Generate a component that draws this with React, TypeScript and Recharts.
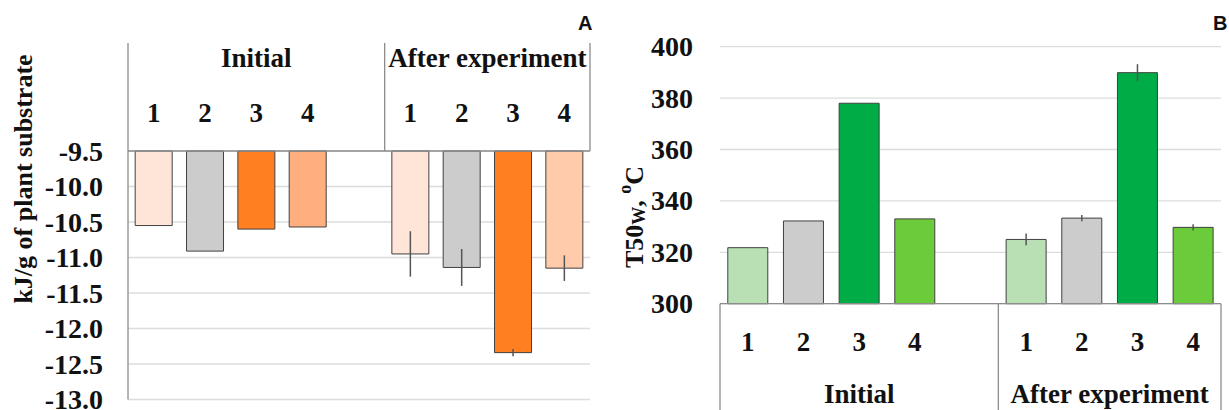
import React from "react";
import { BarChart, Bar, XAxis, YAxis, CartesianGrid, Cell, ErrorBar } from "recharts";

// slot layout shared by both panels (5th slot is the gap between groups)
const slotLabels = ["1", "2", "3", "4", "", "1", "2", "3", "4"];
const slotGroups = [
  "Initial", "Initial", "Initial", "Initial", "Initial",
  "After experiment", "After experiment", "After experiment", "After experiment",
];

// Panel A: energy, kJ/g of plant substrate
const energyInitial = [-10.55, -10.91, -10.6, -10.57];
const energyAfter = [-10.95, -11.14, -12.34, -11.15];
const energyAfterErr = [0.32, 0.26, 0.05, 0.18];
const energyTicks = [-9.5, -10, -10.5, -11, -11.5, -12, -12.5, -13];
const energyInitialColors = ["#FFE4D8", "#CCCCCC", "#FF7F21", "#FFAF7F"];
const energyAfterColors = ["#FFE4D8", "#CCCCCC", "#FF7F21", "#FFCBAA"];

// Panel B: T50w, oC
const t50Initial = [321.8, 332.2, 378, 333];
const t50After = [325, 333.3, 389.9, 329.7];
const t50AfterErr = [2.3, 1.2, 3.3, 1.2];
const t50Ticks = [300, 320, 340, 360, 380, 400];
const t50Colors = ["#B9DFB5", "#CCCCCC", "#00AC45", "#6CCB3A"];

const SERIF = "'Liberation Serif', 'Times New Roman', serif";
const AXIS = "#8C8C8C";
const GRID = "#DCDCDC";

function buildRows(initial: number[], after: number[], afterErr: number[], initColors: string[], afterColors: string[]) {
  const values = [...initial, null, ...after];
  const errs = [...initial.map(() => 0), 0, ...afterErr];
  const colors = [...initColors, "none", ...afterColors];
  return slotLabels.map((label, i) => ({
    slot: i,
    label,
    group: slotGroups[i],
    value: values[i],
    err: errs[i],
    color: colors[i],
  }));
}

const rowsA = buildRows(energyInitial, energyAfter, energyAfterErr, energyInitialColors, energyAfterColors);
const rowsB = buildRows(t50Initial, t50After, t50AfterErr, t50Colors, t50Colors);

// header / footer box with the numbers, group names and dividers
function GroupTick(props: any) {
  const { x, index, rows, axisY, dir, slotW, boxH, groupGap } = props;
  const half = slotW / 2;
  const row = rows[index];
  const group = row.group;
  const first = index === 0 || rows[index - 1].group !== group;
  let count = 0;
  for (let i = index; i < rows.length && rows[i].group === group; i++) count++;
  const edge = axisY + dir * boxH;
  return (
    <g>
      {row.label && (
        <text x={x} y={axisY + dir * 38} textAnchor="middle" dominantBaseline="central"
          fontFamily={SERIF} fontWeight="bold" fontSize={27} fill="#111">
          {row.label}
        </text>
      )}
      {first && (
        <text x={x + (count - 1) * half} y={axisY + dir * groupGap} textAnchor="middle" dominantBaseline="central"
          fontFamily={SERIF} fontWeight="bold" fontSize={27} fill="#111">
          {group}
        </text>
      )}
      {first && <line x1={x - half} x2={x - half} y1={axisY} y2={edge} stroke={AXIS} strokeWidth={1.3} />}
      {index === rows.length - 1 && (
        <line x1={x + half} x2={x + half} y1={axisY} y2={edge} stroke={AXIS} strokeWidth={1.3} />
      )}
    </g>
  );
}

function ValueTick(props: any) {
  const { x, y, payload, digits } = props;
  const v = payload.value as number;
  return (
    <text x={x} y={y} textAnchor="end" dominantBaseline="central"
      fontFamily={SERIF} fontWeight="bold" fontSize={28} fill="#111">
      {digits ? v.toFixed(digits) : String(v)}
    </text>
  );
}

function EnergyTitle() {
  return (
    <text x={23} y={179} transform="rotate(-90 23 179)" textAnchor="middle" dominantBaseline="central"
      fontFamily={SERIF} fontWeight="bold" fontSize={26} fill="#111">
      kJ/g of plant substrate
    </text>
  );
}

function T50Title() {
  return (
    <text x={34} y={217} transform="rotate(-90 34 217)" textAnchor="middle" dominantBaseline="central"
      fontFamily={SERIF} fontWeight="bold" fontSize={26} fill="#111">
      T50<tspan dy={5} fontSize={18}>W</tspan>
      <tspan dy={-5}>, </tspan>
      <tspan dy={-9} fontSize={18}>o</tspan>
      <tspan dy={9}>C</tspan>
    </text>
  );
}

export default function App() {
  const aW = 620, aLeft = 128, aRight = 30;
  const bX = 600, bW = 629, bLeft = 120, bRight = 8;
  const slotA = (aW - aLeft - aRight) / rowsA.length;
  const slotB = (bW - bLeft - bRight) / rowsB.length;

  return (
    <div style={{ position: "absolute", left: 0, top: 0, width: 1229, height: 410, background: "#fff", overflow: "hidden" }}>
      <div style={{ position: "absolute", left: 0, top: 0 }}>
        <BarChart width={aW} height={410} data={rowsA} barCategoryGap="14%"
          margin={{ top: 43, right: aRight, left: 0, bottom: 10.5 }}>
          <CartesianGrid vertical={false} stroke={GRID} strokeWidth={1.3} />
          <XAxis dataKey="slot" orientation="top" height={108} interval={0}
            axisLine={{ stroke: AXIS, strokeWidth: 1.3 }} tickLine={false}
            tick={<GroupTick rows={rowsA} axisY={151} dir={-1} slotW={slotA} boxH={108} groupGap={93} />} />
          <YAxis domain={[-13, -9.5]} ticks={energyTicks} width={aLeft} interval={0}
            tickSize={0} tickMargin={25}
            axisLine={{ stroke: AXIS, strokeWidth: 1.3 }} tickLine={false}
            tick={<ValueTick digits={1} />}
            label={<EnergyTitle />} />
          <Bar dataKey="value" stroke="#404040" strokeWidth={1} isAnimationActive={false}>
            {rowsA.map((r) => <Cell key={r.slot} fill={r.color} />)}
            <ErrorBar dataKey="err" width={0} stroke="#555" strokeWidth={1.5} direction="y" isAnimationActive={false} />
          </Bar>
        </BarChart>
      </div>
      <div style={{ position: "absolute", left: bX, top: 0 }}>
        <BarChart width={bW} height={410} data={rowsB} barCategoryGap="14%"
          margin={{ top: 46.7, right: bRight, left: 0, bottom: 0 }}>
          <CartesianGrid vertical={false} stroke={GRID} strokeWidth={1.3} />
          <XAxis dataKey="slot" orientation="bottom" height={106.3} interval={0}
            axisLine={{ stroke: AXIS, strokeWidth: 1.3 }} tickLine={false}
            tick={<GroupTick rows={rowsB} axisY={303.7} dir={1} slotW={slotB} boxH={110} groupGap={90} />} />
          <YAxis domain={[300, 400]} ticks={t50Ticks} width={bLeft} interval={0}
            tickSize={0} tickMargin={27} axisLine={false} tickLine={false}
            tick={<ValueTick digits={0} />}
            label={<T50Title />} />
          <Bar dataKey="value" stroke="#404040" strokeWidth={1} isAnimationActive={false}>
            {rowsB.map((r) => <Cell key={r.slot} fill={r.color} />)}
            <ErrorBar dataKey="err" width={0} stroke="#555" strokeWidth={1.5} direction="y" isAnimationActive={false} />
          </Bar>
        </BarChart>
      </div>
      <div style={{ position: "absolute", left: 578, top: 12, font: "bold 20px 'Liberation Sans', Arial, sans-serif", color: "#111" }}>A</div>
      <div style={{ position: "absolute", left: 1213, top: 12, font: "bold 20px 'Liberation Sans', Arial, sans-serif", color: "#111" }}>B</div>
    </div>
  );
}
